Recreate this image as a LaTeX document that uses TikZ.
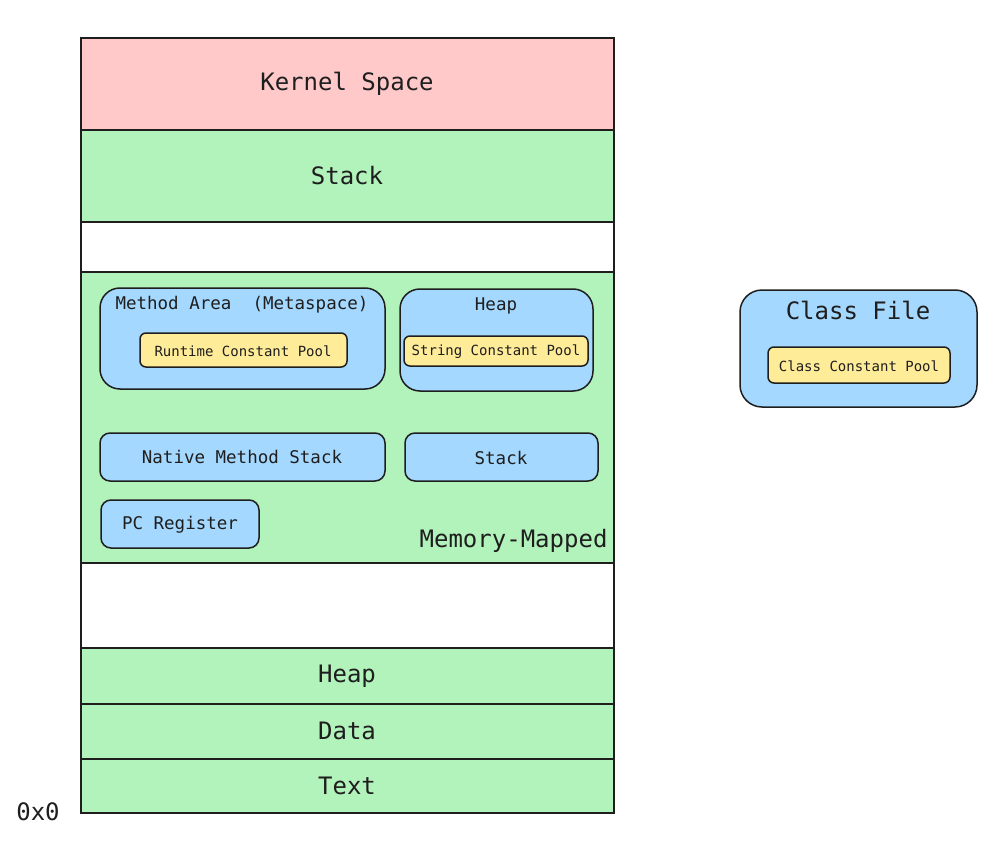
\documentclass[tikz,border=0pt]{standalone}
\usepackage{fontspec}
\setmainfont{DejaVu Sans Mono}
\definecolor{pinkfill}{HTML}{FFC9C9}
\definecolor{greenfill}{HTML}{B2F2BB}
\definecolor{bluefill}{HTML}{A5D8FF}
\definecolor{yellowfill}{HTML}{FFEC99}
\definecolor{ink}{HTML}{1E1E1E}
\begin{document}
\begin{tikzpicture}[x=1pt,y=-1pt,
  seg/.style={draw=ink,line width=1.5pt},
  big/.style={font=\fontsize{24}{28}\selectfont,text=ink},
  mid/.style={font=\fontsize{17.5}{20}\selectfont,text=ink},
  small/.style={font=\fontsize{14}{16}\selectfont,text=ink},
  bluebox/.style={draw=ink,line width=1.5pt,fill=bluefill,rounded corners=#1},
  bluebox/.default=10pt,
  yelbox/.style={draw=ink,line width=1.5pt,fill=yellowfill,rounded corners=6pt}]
\useasboundingbox (0,0) rectangle (1000,850);
% memory column
\filldraw[seg,fill=pinkfill] (81,38) rectangle (614,130);
\node[big] (kernel) at (347,84) {Kernel Space};
\filldraw[seg,fill=greenfill] (81,130) rectangle (614,222);
\node[big] (stack) at (347,176) {Stack};
\filldraw[seg,fill=white] (81,222) rectangle (614,272);
\filldraw[seg,fill=greenfill] (81,272) rectangle (614,563);
\filldraw[seg,fill=white] (81,563) rectangle (614,648);
\filldraw[seg,fill=greenfill] (81,648) rectangle (614,704);
\node[big] (heap) at (347,676) {Heap};
\filldraw[seg,fill=greenfill] (81,704) rectangle (614,759);
\node[big] (data) at (347,731) {Data};
\filldraw[seg,fill=greenfill] (81,759) rectangle (614,813);
\node[big] (text) at (347,786) {Text};
\node[big] (zero) at (38,812) {0x0};
% memory mapped content
\node[big,anchor=east] (mm) at (611,541) {Memory-Mapped};
\filldraw[bluebox=20pt] (100,288) rectangle (385,389);
\node[mid] (ma) at (242,305) {Method Area\ \ (Metaspace)};
\filldraw[yelbox] (140,333) rectangle (347,367);
\node[small] (rcp) at (243,351) {Runtime Constant Pool};
\filldraw[bluebox=20pt] (400,289) rectangle (593,391);
\node[mid] (jheap) at (496,306) {Heap};
\filldraw[yelbox] (404,336) rectangle (588,366);
\node[small] (scp) at (496,352) {String Constant Pool};
\filldraw[bluebox] (100,433) rectangle (385,481);
\node[mid] (nms) at (242,457) {Native Method Stack};
\filldraw[bluebox] (405,433) rectangle (598,481);
\node[mid] (jstack) at (501,458) {Stack};
\filldraw[bluebox] (101,500) rectangle (259,548);
\node[mid] (pc) at (180,525) {PC Register};
% class file
\filldraw[bluebox=22pt] (740,290) rectangle (977,407);
\node[big] (cf) at (858,310) {Class File};
\filldraw[yelbox] (768,347) rectangle (950,383);
\node[small] (ccp) at (859,366) {Class Constant Pool};
\end{tikzpicture}
\end{document}
